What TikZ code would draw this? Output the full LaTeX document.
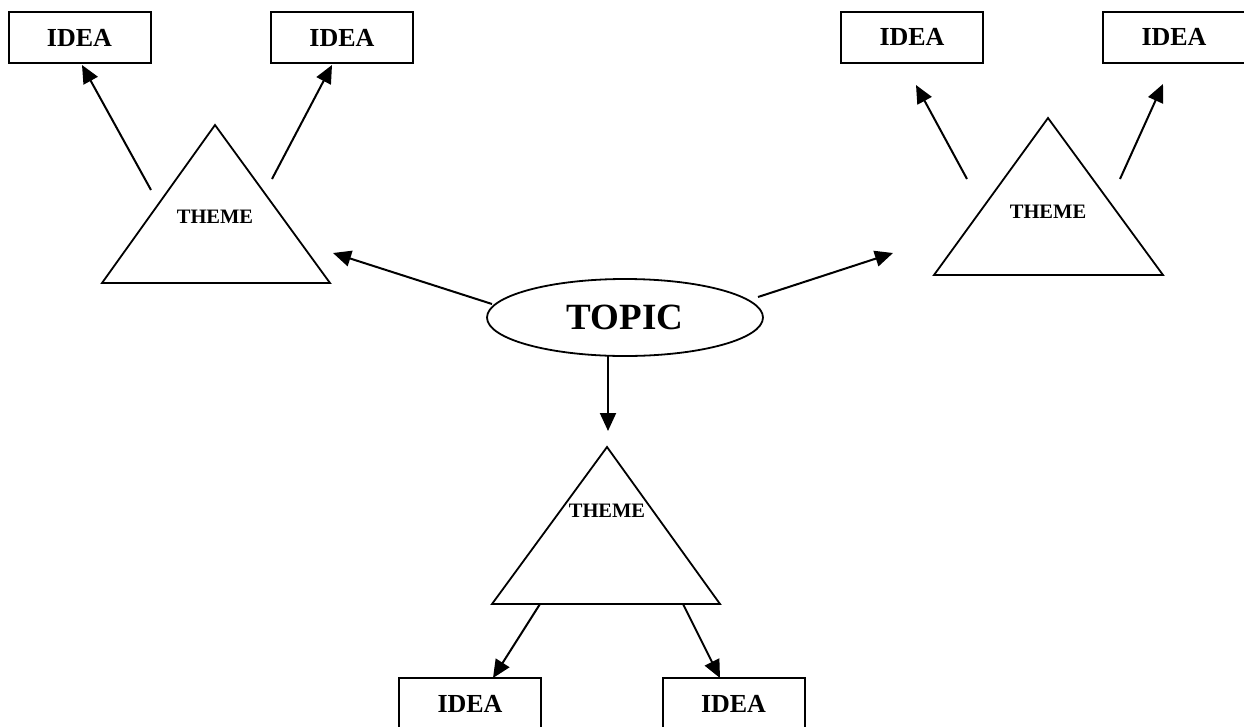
\documentclass[tikz,border=0pt]{standalone}
\usepackage{fontspec}
\setmainfont{Liberation Serif}
\usetikzlibrary{arrows.meta,shapes.geometric}
\begin{document}
\begin{tikzpicture}[x=1pt,y=-1pt,
  ideabox/.style={draw,line width=2pt,minimum width=142pt,minimum height=51pt,inner sep=0pt,font=\fontsize{26}{28}\selectfont\bfseries},
  themetext/.style={inner sep=0pt,font=\fontsize{20.5}{22}\selectfont\bfseries},
  topicnode/.style={draw,ellipse,line width=1.8pt,minimum width=276pt,minimum height=77pt,inner sep=0pt,font=\fontsize{37}{40}\selectfont\bfseries},
  tri/.style={line width=1.8pt,line join=miter},
  conn/.style={line width=2pt,-{Triangle[length=18pt,width=16pt]}}
]
\useasboundingbox[fill=white] (0,0) rectangle (1244,726);

% idea boxes
\node[ideabox] (i1) at (79.5,37.5) {IDEA};
\node[ideabox] (i2) at (342,37.5) {IDEA};
\node[ideabox] (i3) at (912,37) {IDEA};
\node[ideabox] (i4) at (1174,37) {IDEA};
\node[ideabox] (i5) at (470,703.5) {IDEA};
\node[ideabox] (i6) at (733.5,703.5) {IDEA};

% topic
\node[topicnode] (topic) at (625,317.5) {TOPIC};

% triangles
\draw[tri] (215,125) -- (330,283) -- (102,283) -- cycle;
\draw[tri] (1048,118) -- (1163,275) -- (934,275) -- cycle;
\draw[tri] (607,447) -- (720,604) -- (492,604) -- cycle;
\node[themetext] (t1) at (215,217) {THEME};
\node[themetext] (t2) at (1048,212) {THEME};
\node[themetext] (t3) at (607,511) {THEME};

% connector end points
\coordinate (tl) at (333,253);
\coordinate (tr) at (893,253);
\coordinate (tb) at (608,431);
\coordinate (s1) at (492,304);
\coordinate (s2) at (758,297);
\coordinate (s3) at (608,356);
\coordinate (a1) at (151,190);
\coordinate (b1) at (82,65);
\coordinate (a2) at (272,179);
\coordinate (b2) at (332,65);
\coordinate (a3) at (967,179);
\coordinate (b3) at (916,85);
\coordinate (a4) at (1120,179);
\coordinate (b4) at (1163,84);
\coordinate (a5) at (540,604);
\coordinate (b5) at (493,678);
\coordinate (a6) at (683,604);
\coordinate (b6) at (720,678);

\draw[conn] (s1) -- (tl);
\draw[conn] (s2) -- (tr);
\draw[conn] (s3) -- (tb);
\draw[conn] (a1) -- (b1);
\draw[conn] (a2) -- (b2);
\draw[conn] (a3) -- (b3);
\draw[conn] (a4) -- (b4);
\draw[conn] (a5) -- (b5);
\draw[conn] (a6) -- (b6);
\end{tikzpicture}
\end{document}
